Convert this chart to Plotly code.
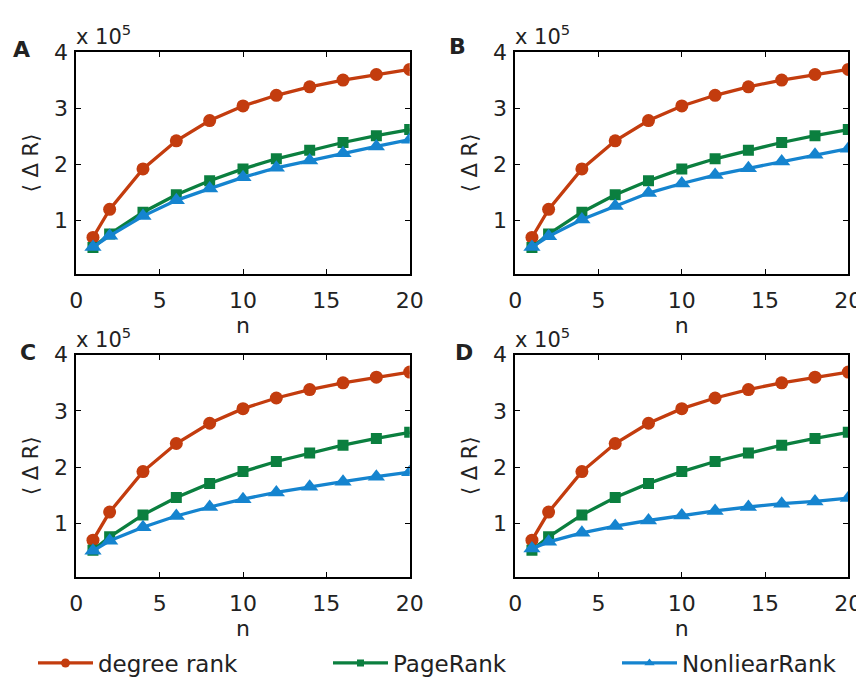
import plotly.graph_objects as go

n = [1, 2, 4, 6, 8, 10, 12, 14, 16, 18, 20]
degree_rank = [0.70, 1.20, 1.92, 2.42, 2.78, 3.04, 3.23, 3.38, 3.50, 3.60, 3.69]
page_rank = [0.52, 0.76, 1.15, 1.46, 1.71, 1.92, 2.10, 2.25, 2.39, 2.51, 2.62]
nonlinear_A = [0.53, 0.73, 1.08, 1.36, 1.57, 1.77, 1.94, 2.07, 2.20, 2.32, 2.44]
nonlinear_B = [0.53, 0.72, 1.02, 1.26, 1.49, 1.66, 1.81, 1.93, 2.05, 2.17, 2.28]
nonlinear_C = [0.51, 0.69, 0.93, 1.13, 1.29, 1.43, 1.55, 1.65, 1.74, 1.83, 1.91]
nonlinear_D = [0.55, 0.67, 0.83, 0.95, 1.05, 1.14, 1.22, 1.29, 1.35, 1.39, 1.45]
scale = 1e5
panel_labels = ["A", "B", "C", "D"]
nonlinear = [nonlinear_A, nonlinear_B, nonlinear_C, nonlinear_D]
series_names = ["degree rank", "PageRank", "NonliearRank"]
x_ticks = [0, 5, 10, 15, 20]
y_ticks = [1, 2, 3, 4]

RED = "#C33C0E"
GREEN = "#0B7F3F"
BLUE = "#1584CF"
FONT = "DejaVu Sans"
TXT = "#222222"

OFF = 8  # page body margin
W, H = 864 - OFF, 678 - OFF
# panel boxes in reference pixels: (left, right, top, bottom)
boxes = [(76.3, 409.7, 52, 274), (515.3, 848.3, 52, 274),
         (76.3, 409.7, 354.7, 576.7), (515.3, 848.3, 354.7, 576.7)]
letter_pos = [(21, 49), (457, 46), (28, 352), (464, 352)]


def px(x):
    return (x - OFF) / W


def py(y):
    return 1 - (y - OFF) / H


fig = go.Figure()
layout = {}
for i, (l, r, t, b) in enumerate(boxes):
    k = "" if i == 0 else str(i + 1)
    xa, ya = "x" + k, "y" + k
    ys = [v * scale for v in nonlinear[i]]
    fig.add_trace(go.Scatter(x=n, y=[v * scale for v in degree_rank], xaxis=xa, yaxis=ya,
                             mode="lines+markers", line=dict(color=RED, width=3.3),
                             marker=dict(symbol="circle", size=13, color=RED),
                             showlegend=False))
    fig.add_trace(go.Scatter(x=n, y=[v * scale for v in page_rank], xaxis=xa, yaxis=ya,
                             mode="lines+markers", line=dict(color=GREEN, width=3.3),
                             marker=dict(symbol="square", size=11, color=GREEN),
                             showlegend=False))
    fig.add_trace(go.Scatter(x=n, y=ys, xaxis=xa, yaxis=ya,
                             mode="lines+markers", line=dict(color=BLUE, width=3.3),
                             marker=dict(symbol="triangle-up", size=15, color=BLUE),
                             showlegend=False))
    common = dict(showline=True, linewidth=2, linecolor="black", mirror="ticks",
                  ticks="inside", ticklen=5, tickwidth=1.2, tickcolor="black",
                  showgrid=False, zeroline=False, automargin=False,
                  tickfont=dict(family=FONT, size=22, color=TXT))
    layout["xaxis" + k] = dict(common, domain=[px(l), px(r)], anchor=ya,
                               range=[0, 20], tickvals=x_ticks,
                               ticklabelstandoff=6,
                               title=dict(text="n", standoff=2,
                                          font=dict(family=FONT, size=22, color=TXT)))
    layout["yaxis" + k] = dict(common, domain=[py(b), py(t)], anchor=xa,
                               range=[0.05 * scale, 4 * scale],
                               tickvals=[v * scale for v in y_ticks],
                               ticktext=[str(v) for v in y_ticks],
                               ticklabelstandoff=2,
                               title=dict(text="⟨ Δ R⟩", standoff=10,
                                          font=dict(family=FONT, size=21, color=TXT)))

annotations = []
for i, (l, r, t, b) in enumerate(boxes):
    annotations.append(dict(text="x 10<sup>5</sup>", xref="paper", yref="paper",
                            x=px(l - 2), y=py(t - 1), xanchor="left", yanchor="bottom",
                            showarrow=False, font=dict(family=FONT, size=21, color=TXT)))
    lx, ly = letter_pos[i]
    annotations.append(dict(text="<b>" + panel_labels[i] + "</b>", xref="paper", yref="paper",
                            x=px(lx), y=py(ly), xanchor="center", yanchor="middle",
                            showarrow=False, font=dict(family=FONT, size=22, color=TXT)))

# legend-only traces
leg_specs = [(RED, "circle", 9), (GREEN, "square", 7), (BLUE, "triangle-up", 9)]
leg_names = ["legend", "legend2", "legend3"]
leg_x = [33, 328, 617]
for (c, s, sz), name, lg in zip(leg_specs, series_names, leg_names):
    fig.add_trace(go.Scatter(x=[None], y=[None], mode="lines+markers", name=name,
                             line=dict(color=c, width=3.3), marker=dict(symbol=s, size=sz, color=c),
                             legend=lg, showlegend=True))
for lg, lx in zip(leg_names, leg_x):
    layout[lg] = dict(x=px(lx), xanchor="left", y=py(663), yanchor="middle",
                      orientation="h", itemwidth=55, bgcolor="rgba(0,0,0,0)",
                      font=dict(family=FONT, size=23, color=TXT))

fig.update_layout(width=W, height=H,
                  margin=dict(l=0, r=0, t=0, b=0, autoexpand=False),
                  paper_bgcolor="white", plot_bgcolor="white",
                  annotations=annotations, **layout)
fig.write_html("out.html")
